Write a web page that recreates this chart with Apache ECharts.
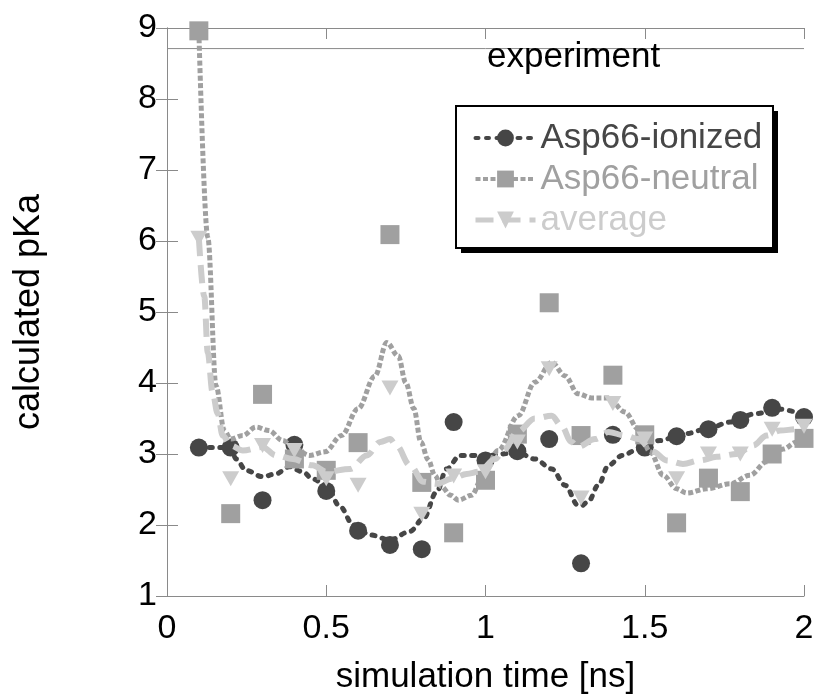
<!DOCTYPE html>
<html>
<head>
<meta charset="utf-8">
<script src="https://cdn.jsdelivr.net/npm/echarts@6/dist/echarts.min.js"></script>
<style>
html,body{margin:0;padding:0;background:#fff;}
#chart{width:819px;height:700px;}
</style>
</head>
<body>
<div id="chart"></div>
<script>
// ---- data ----
const times = [0.1,0.2,0.3,0.4,0.5,0.6,0.7,0.8,0.9,1.0,1.1,1.2,1.3,1.4,1.5,1.6,1.7,1.8,1.9,2.0];
const ionized = [3.09,3.09,2.35,3.13,2.48,1.92,1.72,1.66,3.45,2.91,3.04,3.21,1.46,3.27,3.09,3.25,3.35,3.48,3.65,3.52];
const neutral = [8.96,2.16,3.84,2.93,2.77,3.16,6.09,2.60,1.89,2.63,3.28,5.13,3.26,4.11,3.27,2.03,2.66,2.47,3.00,3.22];
const average = [6.04,2.65,3.12,3.05,2.65,2.56,3.93,2.15,2.69,2.75,3.17,4.20,2.38,3.71,3.21,2.65,3.00,3.00,3.35,3.39];

// smoothed trend curves
const ionizedCurveT = [0.1,0.2,0.217,0.248,0.30,0.342,0.384,0.426,0.457,0.5,0.543,0.585,0.637,0.70,0.763,0.805,0.847,0.878,0.92,0.962,0.99,1.05,1.098,1.155,1.208,1.25,1.29,1.30,1.323,1.354,1.386,1.43,1.48,1.548,1.62,1.695,1.768,1.85,1.925,2.0];
const ionizedCurveV = [3.09,3.09,2.93,2.77,2.68,2.72,2.82,2.75,2.65,2.56,2.26,2.00,1.86,1.79,1.91,2.09,2.47,2.79,2.98,2.98,2.96,3.00,3.03,2.93,2.79,2.56,2.28,2.27,2.33,2.56,2.84,2.98,3.07,3.19,3.28,3.35,3.45,3.57,3.63,3.55];

const neutralCurveT = [0.1,0.128,0.154,0.18,0.2,0.238,0.279,0.32,0.363,0.40,0.447,0.496,0.548,0.6,0.653,0.69,0.726,0.75,0.775,0.797,0.82,0.841,0.862,0.89,0.915,0.957,0.988,1.04,1.103,1.155,1.208,1.25,1.29,1.333,1.386,1.438,1.48,1.517,1.558,1.6,1.632,1.694,1.768,1.83,1.883,1.935,1.977,2.0];
const neutralCurveV = [8.96,6.05,3.96,3.33,3.21,3.26,3.38,3.33,3.19,3.08,2.98,3.03,3.26,3.64,4.10,4.57,4.38,4.00,3.64,3.17,2.92,2.70,2.54,2.42,2.35,2.42,2.65,3.05,3.54,4.01,4.29,4.10,3.85,3.79,3.79,3.59,3.35,3.03,2.70,2.51,2.45,2.51,2.58,2.70,2.89,3.07,3.17,3.22];

const averageCurveT = [0.1,0.117,0.128,0.143,0.159,0.175,0.2,0.238,0.30,0.342,0.395,0.457,0.5,0.575,0.627,0.67,0.70,0.72,0.763,0.805,0.847,0.894,0.941,0.98,1.03,1.06,1.10,1.155,1.208,1.238,1.27,1.29,1.344,1.386,1.438,1.48,1.527,1.569,1.62,1.674,1.726,1.789,1.84,1.883,1.925,1.977,2.0];
const averageCurveV = [6.04,5.22,4.43,3.87,3.57,3.26,3.12,3.05,3.10,2.98,2.93,2.84,2.75,2.79,2.98,3.17,3.21,3.12,2.84,2.61,2.58,2.65,2.72,2.75,2.93,3.07,3.31,3.50,3.54,3.40,3.17,3.10,3.21,3.31,3.26,3.21,3.03,2.91,2.86,2.91,2.96,3.00,3.12,3.26,3.33,3.35,3.39];

const experimentPKa = 8.71;
const xTicks = {min: 0, max: 2, interval: 0.5};
const yTicks = {min: 1, max: 9, interval: 1};

const seriesNames = ['Asp66-ionized', 'Asp66-neutral', 'average'];
const xLabel = 'simulation time [ns]';
const yLabel = 'calculated pKa';
const expLabel = 'experiment';

// ---- build ----
const FONT = "'Liberation Sans', Arial, sans-serif";
const C_ION = '#464646', C_NEU = '#a0a0a0', C_AVG = '#cccccc', C_AX = '#8a8a8a';
const pair = (a, b) => a.map((v, i) => [v, b[i]]);

const ionLine = {color: C_ION, width: 5, type: [3, 7.5], cap: 'round'};
const neuLine = {color: C_NEU, width: 5, type: [5, 2.5]};
const avgLine = {color: C_AVG, width: 6, type: [18, 9]};

const axisCommon = {
  type: 'value', splitLine: {show: false},
  axisLine: {show: true, lineStyle: {color: C_AX, width: 1}},
  axisTick: {show: true, inside: true, length: 11, lineStyle: {color: C_AX, width: 1}}
};

const LEG = {x: 456, y: 106, w: 317, h: 142};

const chart = echarts.init(document.getElementById('chart'), null, {renderer: 'canvas'});
chart.setOption({
  animation: false,
  backgroundColor: '#fff',
  textStyle: {fontFamily: FONT},
  grid: {left: 167, right: 15, top: 28, bottom: 102, containLabel: false},
  xAxis: [
    Object.assign({}, axisCommon, xTicks, {
      position: 'bottom',
      axisLabel: {fontSize: 34, color: '#000', margin: 16, fontFamily: FONT},
      name: xLabel, nameLocation: 'middle', nameGap: 64,
      nameTextStyle: {fontSize: 35, color: '#000', fontFamily: FONT}
    }),
    Object.assign({}, axisCommon, xTicks, {position: 'top', axisLabel: {show: false}})
  ],
  yAxis: [
    Object.assign({}, axisCommon, yTicks, {
      position: 'left',
      axisLabel: {fontSize: 34, color: '#000', margin: 10, fontFamily: FONT},
      name: yLabel, nameLocation: 'middle', nameGap: 120,
      nameTextStyle: {fontSize: 36, color: '#000', fontFamily: FONT}
    }),
    Object.assign({}, axisCommon, yTicks, {position: 'right', axisLabel: {show: false}})
  ],
  legend: {
    orient: 'vertical', left: LEG.x, top: LEG.y + 3, z: 20,
    padding: [11, 13, 11, 17], itemGap: 5,
    itemWidth: 60, itemHeight: 21,
    textStyle: {fontSize: 35, lineHeight: 36, fontFamily: FONT},
    data: [
      {name: seriesNames[0], textStyle: {color: C_ION}, lineStyle: {width: 4}},
      {name: seriesNames[1], textStyle: {color: C_NEU}, lineStyle: {width: 4}},
      {name: seriesNames[2], textStyle: {color: C_AVG}, lineStyle: {width: 5}}
    ]
  },
  graphic: [
    {type: 'rect', z: 10, silent: true, shape: {x: LEG.x + 5, y: LEG.y + 5, width: LEG.w, height: LEG.h}, style: {fill: '#000'}},
    {type: 'rect', z: 11, silent: true, shape: {x: LEG.x, y: LEG.y, width: LEG.w, height: LEG.h}, style: {fill: '#fff', stroke: '#000', lineWidth: 2}},
    {type: 'text', left: 487, top: 40, silent: true, z: 12,
     style: {text: expLabel, fontSize: 35, fill: '#000', fontFamily: FONT}}
  ],
  series: [
    {
      name: 'exp', type: 'line', data: [[xTicks.min, experimentPKa], [xTicks.max, experimentPKa]],
      symbol: 'none', silent: true, lineStyle: {color: C_AX, width: 1}, z: 1
    },
    {
      name: seriesNames[0], type: 'line', data: pair(ionizedCurveT, ionizedCurveV),
      smooth: 0.35, smoothMonotone: 'x', symbol: 'circle', showSymbol: false,
      itemStyle: {color: C_ION}, lineStyle: ionLine, z: 2
    },
    {
      name: 'ion-pts', type: 'scatter', data: pair(times, ionized),
      symbol: 'circle', symbolSize: 18, itemStyle: {color: C_ION, opacity: 1}, z: 3
    },
    {
      name: seriesNames[1], type: 'line', data: pair(neutralCurveT, neutralCurveV),
      smooth: 0.35, smoothMonotone: 'x', symbol: 'rect', showSymbol: false,
      itemStyle: {color: C_NEU}, lineStyle: neuLine, z: 4
    },
    {
      name: 'neu-pts', type: 'scatter', data: pair(times, neutral),
      symbol: 'rect', symbolSize: 19, itemStyle: {color: C_NEU, opacity: 1}, z: 5
    },
    {
      name: seriesNames[2], type: 'line', data: pair(averageCurveT, averageCurveV),
      smooth: 0.35, smoothMonotone: 'x', symbol: 'triangle', symbolRotate: 180, showSymbol: false,
      itemStyle: {color: C_AVG}, lineStyle: avgLine, z: 6
    },
    {
      name: 'avg-pts', type: 'scatter', data: pair(times, average),
      symbol: 'triangle', symbolRotate: 180, symbolSize: [17, 15], itemStyle: {color: C_AVG, opacity: 1}, z: 7
    }
  ]
});
</script>
</body>
</html>
